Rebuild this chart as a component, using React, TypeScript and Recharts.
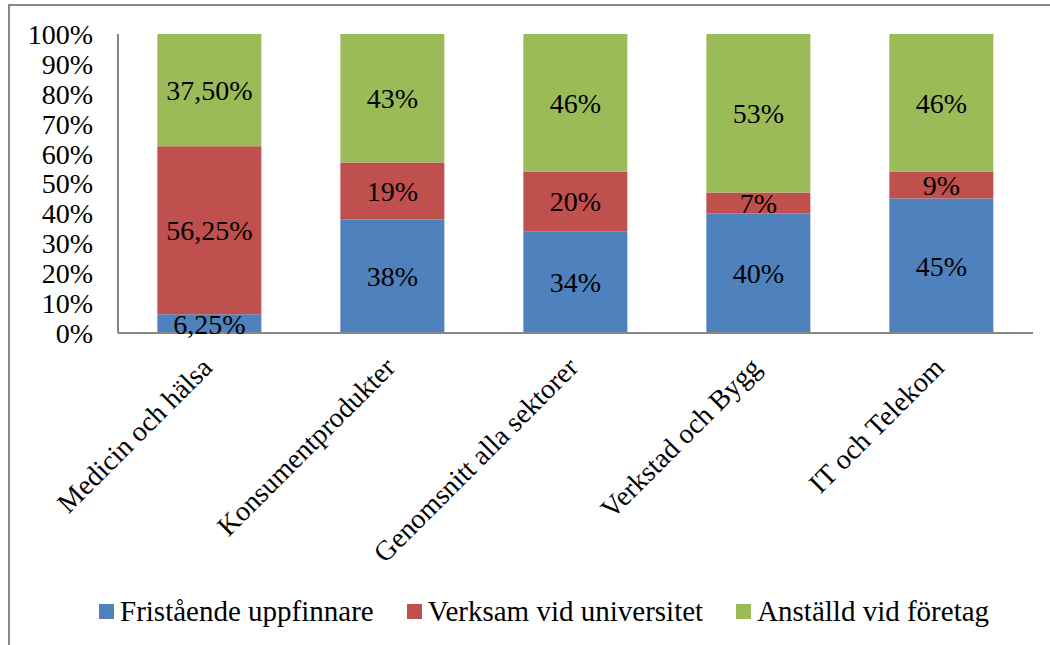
import { BarChart, Bar, XAxis, YAxis, Legend, LabelList } from 'recharts'

const categories = [
  'Medicin och hälsa',
  'Konsumentprodukter',
  'Genomsnitt alla sektorer',
  'Verkstad och Bygg',
  'IT och Telekom',
]
const seriesNames = ['Fristående uppfinnare', 'Verksam vid universitet', 'Anställd vid företag']
const colors = ['#4F81BD', '#C0504D', '#9BBB59']

const fristaende = [6.25, 38, 34, 40, 45]
const universitet = [56.25, 19, 20, 7, 9]
const foretag = [37.5, 43, 46, 53, 46]

const fristaendeLabels = ['6,25%', '38%', '34%', '40%', '45%']
const universitetLabels = ['56,25%', '19%', '20%', '7%', '9%']
const foretagLabels = ['37,50%', '43%', '46%', '53%', '46%']

const yTicks = [0, 10, 20, 30, 40, 50, 60, 70, 80, 90, 100]

const data = categories.map((name, i) => ({
  name,
  s0: fristaende[i],
  s1: universitet[i],
  s2: foretag[i],
  l0: fristaendeLabels[i],
  l1: universitetLabels[i],
  l2: foretagLabels[i],
}))

const FONT = '"Liberation Serif", serif'
const AXIS = '#868686'

function CategoryTick({ x, y, payload }: any) {
  const ty = y + 32
  return (
    <text
      x={x}
      y={ty}
      dy={6}
      transform={`rotate(-45 ${x} ${ty})`}
      textAnchor="end"
      fontFamily={FONT}
      fontSize={28}
      fill="#000"
    >
      {payload.value}
    </text>
  )
}

function ChartLegend() {
  return (
    <div
      style={{
        display: 'flex',
        alignItems: 'center',
        height: 30,
        paddingLeft: 99,
        fontFamily: FONT,
        fontSize: 29,
        color: '#000',
        whiteSpace: 'nowrap',
      }}
    >
      {seriesNames.map((n, i) => (
        <div key={n} style={{ display: 'flex', alignItems: 'center', marginRight: 33, flexShrink: 0 }}>
          <span style={{ width: 15, height: 15, background: colors[i], marginRight: 6, flexShrink: 0 }} />
          <span style={{ lineHeight: '30px' }}>{n}</span>
        </div>
      ))}
    </div>
  )
}

export default function App() {
  return (
    <div style={{ position: 'absolute', left: 0, top: 0, width: 1050, height: 645, background: '#fff' }}>
      <div
        style={{
          position: 'absolute',
          left: 8,
          top: 4,
          width: 1042,
          height: 641,
          borderTop: `2px solid ${AXIS}`,
          borderLeft: `2px solid ${AXIS}`,
        }}
      />
      <BarChart
        width={1050}
        height={645}
        data={data}
        margin={{ top: 34, right: 17, bottom: 19, left: 0 }}
        barCategoryGap="21.5%"
        style={{ position: 'absolute', left: 0, top: 0 }}
      >
        <XAxis
          dataKey="name"
          height={263}
          interval={0}
          tickLine={false}
          tickSize={0}
          tickMargin={0}
          stroke={AXIS}
          strokeWidth={2}
          tick={<CategoryTick />}
        />
        <YAxis
          width={118}
          domain={[0, 100]}
          ticks={yTicks}
          interval={0}
          tickFormatter={(v: number) => `${v}%`}
          tickLine={false}
          tickSize={6}
          tickMargin={19}
          stroke={AXIS}
          strokeWidth={2}
          tick={{ fill: '#000', fontFamily: FONT, fontSize: 28 }}
        />
        <Legend verticalAlign="bottom" content={() => <ChartLegend />} />
        {['s0', 's1', 's2'].map((k, i) => (
          <Bar key={k} dataKey={k} name={seriesNames[i]} stackId="a" fill={colors[i]} isAnimationActive={false}>
            <LabelList dataKey={`l${i}`} position="center" fill="#000" fontFamily={FONT} fontSize={28} />
          </Bar>
        ))}
      </BarChart>
    </div>
  )
}
